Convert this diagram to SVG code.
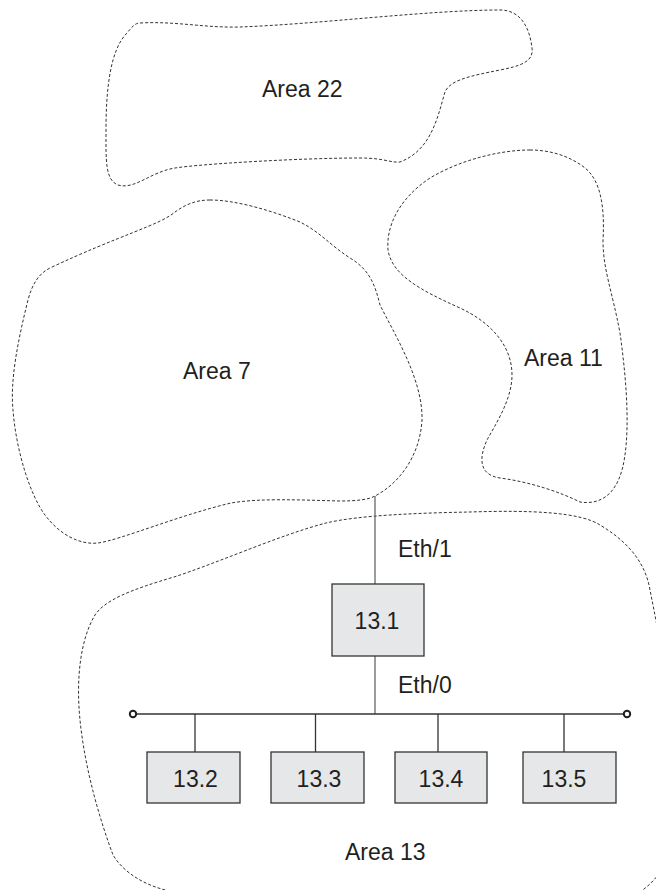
<svg xmlns="http://www.w3.org/2000/svg" width="656" height="890" viewBox="0 0 656 890">
<style>
.area{fill:none;stroke:#333;stroke-width:1;stroke-dasharray:3 2}
.box{fill:#e6e7e8;stroke:#333;stroke-width:1.3}
.lbl{font-family:"Liberation Sans",Arial,sans-serif;font-size:23px;fill:#231f20}
.mid{text-anchor:middle}
.link{stroke:#666;stroke-width:1.3;fill:none}
.bus{stroke:#333;stroke-width:1.3;fill:none}
.term{fill:#fff;stroke:#231f20;stroke-width:2}
</style>
<rect width="656" height="890" fill="#fff"/>
<g id="area22">
<path class="area" d="M140,23 C175,21 205,28 240,27 C320,24 430,10 500,10 C522,10 530,30 532,48 C534,62 520,66 500,70 C470,76 450,80 445,92 C438,115 432,150 400,162 C390,163 385,158 360,158 C300,158 200,164 175,168 C150,172 135,190 118,185 C105,180 106,160 106,130 C106,90 110,50 127,33 C132,27 135,23 140,23 Z"/>
<text class="lbl" x="262" y="97">Area 22</text>
</g>
<g id="area7">
<path class="area" d="M210,200 C195,200 185,205 175,212 C160,225 120,235 50,268 C38,274 32,285 28,300 C18,340 10,380 13,410 C16,450 30,495 45,515 C60,535 80,545 98,543 C120,540 180,515 231,503 C260,498 300,500 340,501 C355,501 368,500 375,496 C400,483 420,455 422,420 C423,380 395,335 380,305 C375,285 370,270 350,258 C330,245 320,232 300,222 C270,210 235,200 210,200 Z"/>
<text class="lbl" x="183" y="379">Area 7</text>
</g>
<g id="area11">
<path class="area" d="M530,150 C500,150 460,160 430,178 C400,198 386,225 388,250 C392,275 420,290 460,308 C490,322 512,345 512,375 C512,400 495,425 487,440 C478,460 480,475 500,478 C530,482 560,492 580,502 C600,505 615,495 622,470 C630,440 628,390 620,333 C612,290 603,270 603,240 C605,205 600,180 585,168 C570,156 550,150 530,150 Z"/>
<text class="lbl" x="524" y="366">Area 11</text>
</g>
<g id="area13">
<path class="area" d="M175,892 C150,888 125,875 113,855 C100,820 85,770 80,720 C76,680 80,640 95,615 C105,600 130,590 174,577 C220,562 280,535 326,523 C360,515 420,513 470,512 C530,510 580,512 600,525 C625,540 645,560 650,590 C656,620 662,650 668,700 L668,860 C660,875 650,885 640,892"/>
<text class="lbl" x="345" y="860">Area 13</text>
</g>
<g id="connectors">
<line class="link" x1="375" y1="496" x2="375" y2="584"/>
<line class="link" x1="375" y1="656" x2="375" y2="714"/>
<line class="bus" x1="136" y1="714" x2="624" y2="714"/>
<line class="bus" x1="195" y1="714" x2="195" y2="752"/>
<line class="bus" x1="315.5" y1="714" x2="315.5" y2="752"/>
<line class="bus" x1="438" y1="714" x2="438" y2="752"/>
<line class="bus" x1="564" y1="714" x2="564" y2="752"/>
<circle class="term" cx="133" cy="714" r="3.2"/>
<circle class="term" cx="627" cy="714" r="3.2"/>
<text class="lbl" x="398" y="557">Eth/1</text>
<text class="lbl" x="398" y="693">Eth/0</text>
</g>
<g id="n13_1">
<rect class="box" x="332" y="584" width="92" height="72"/>
<text class="lbl mid" x="377" y="629">13.1</text>
</g>
<g id="n13_2">
<rect class="box" x="147" y="752" width="93" height="51"/>
<text class="lbl mid" x="195.5" y="787">13.2</text>
</g>
<g id="n13_3">
<rect class="box" x="271" y="752" width="93" height="51"/>
<text class="lbl mid" x="319" y="787">13.3</text>
</g>
<g id="n13_4">
<rect class="box" x="395" y="752" width="92" height="51"/>
<text class="lbl mid" x="441" y="787">13.4</text>
</g>
<g id="n13_5">
<rect class="box" x="523" y="752" width="93" height="51"/>
<text class="lbl mid" x="564" y="787">13.5</text>
</g>
</svg>
